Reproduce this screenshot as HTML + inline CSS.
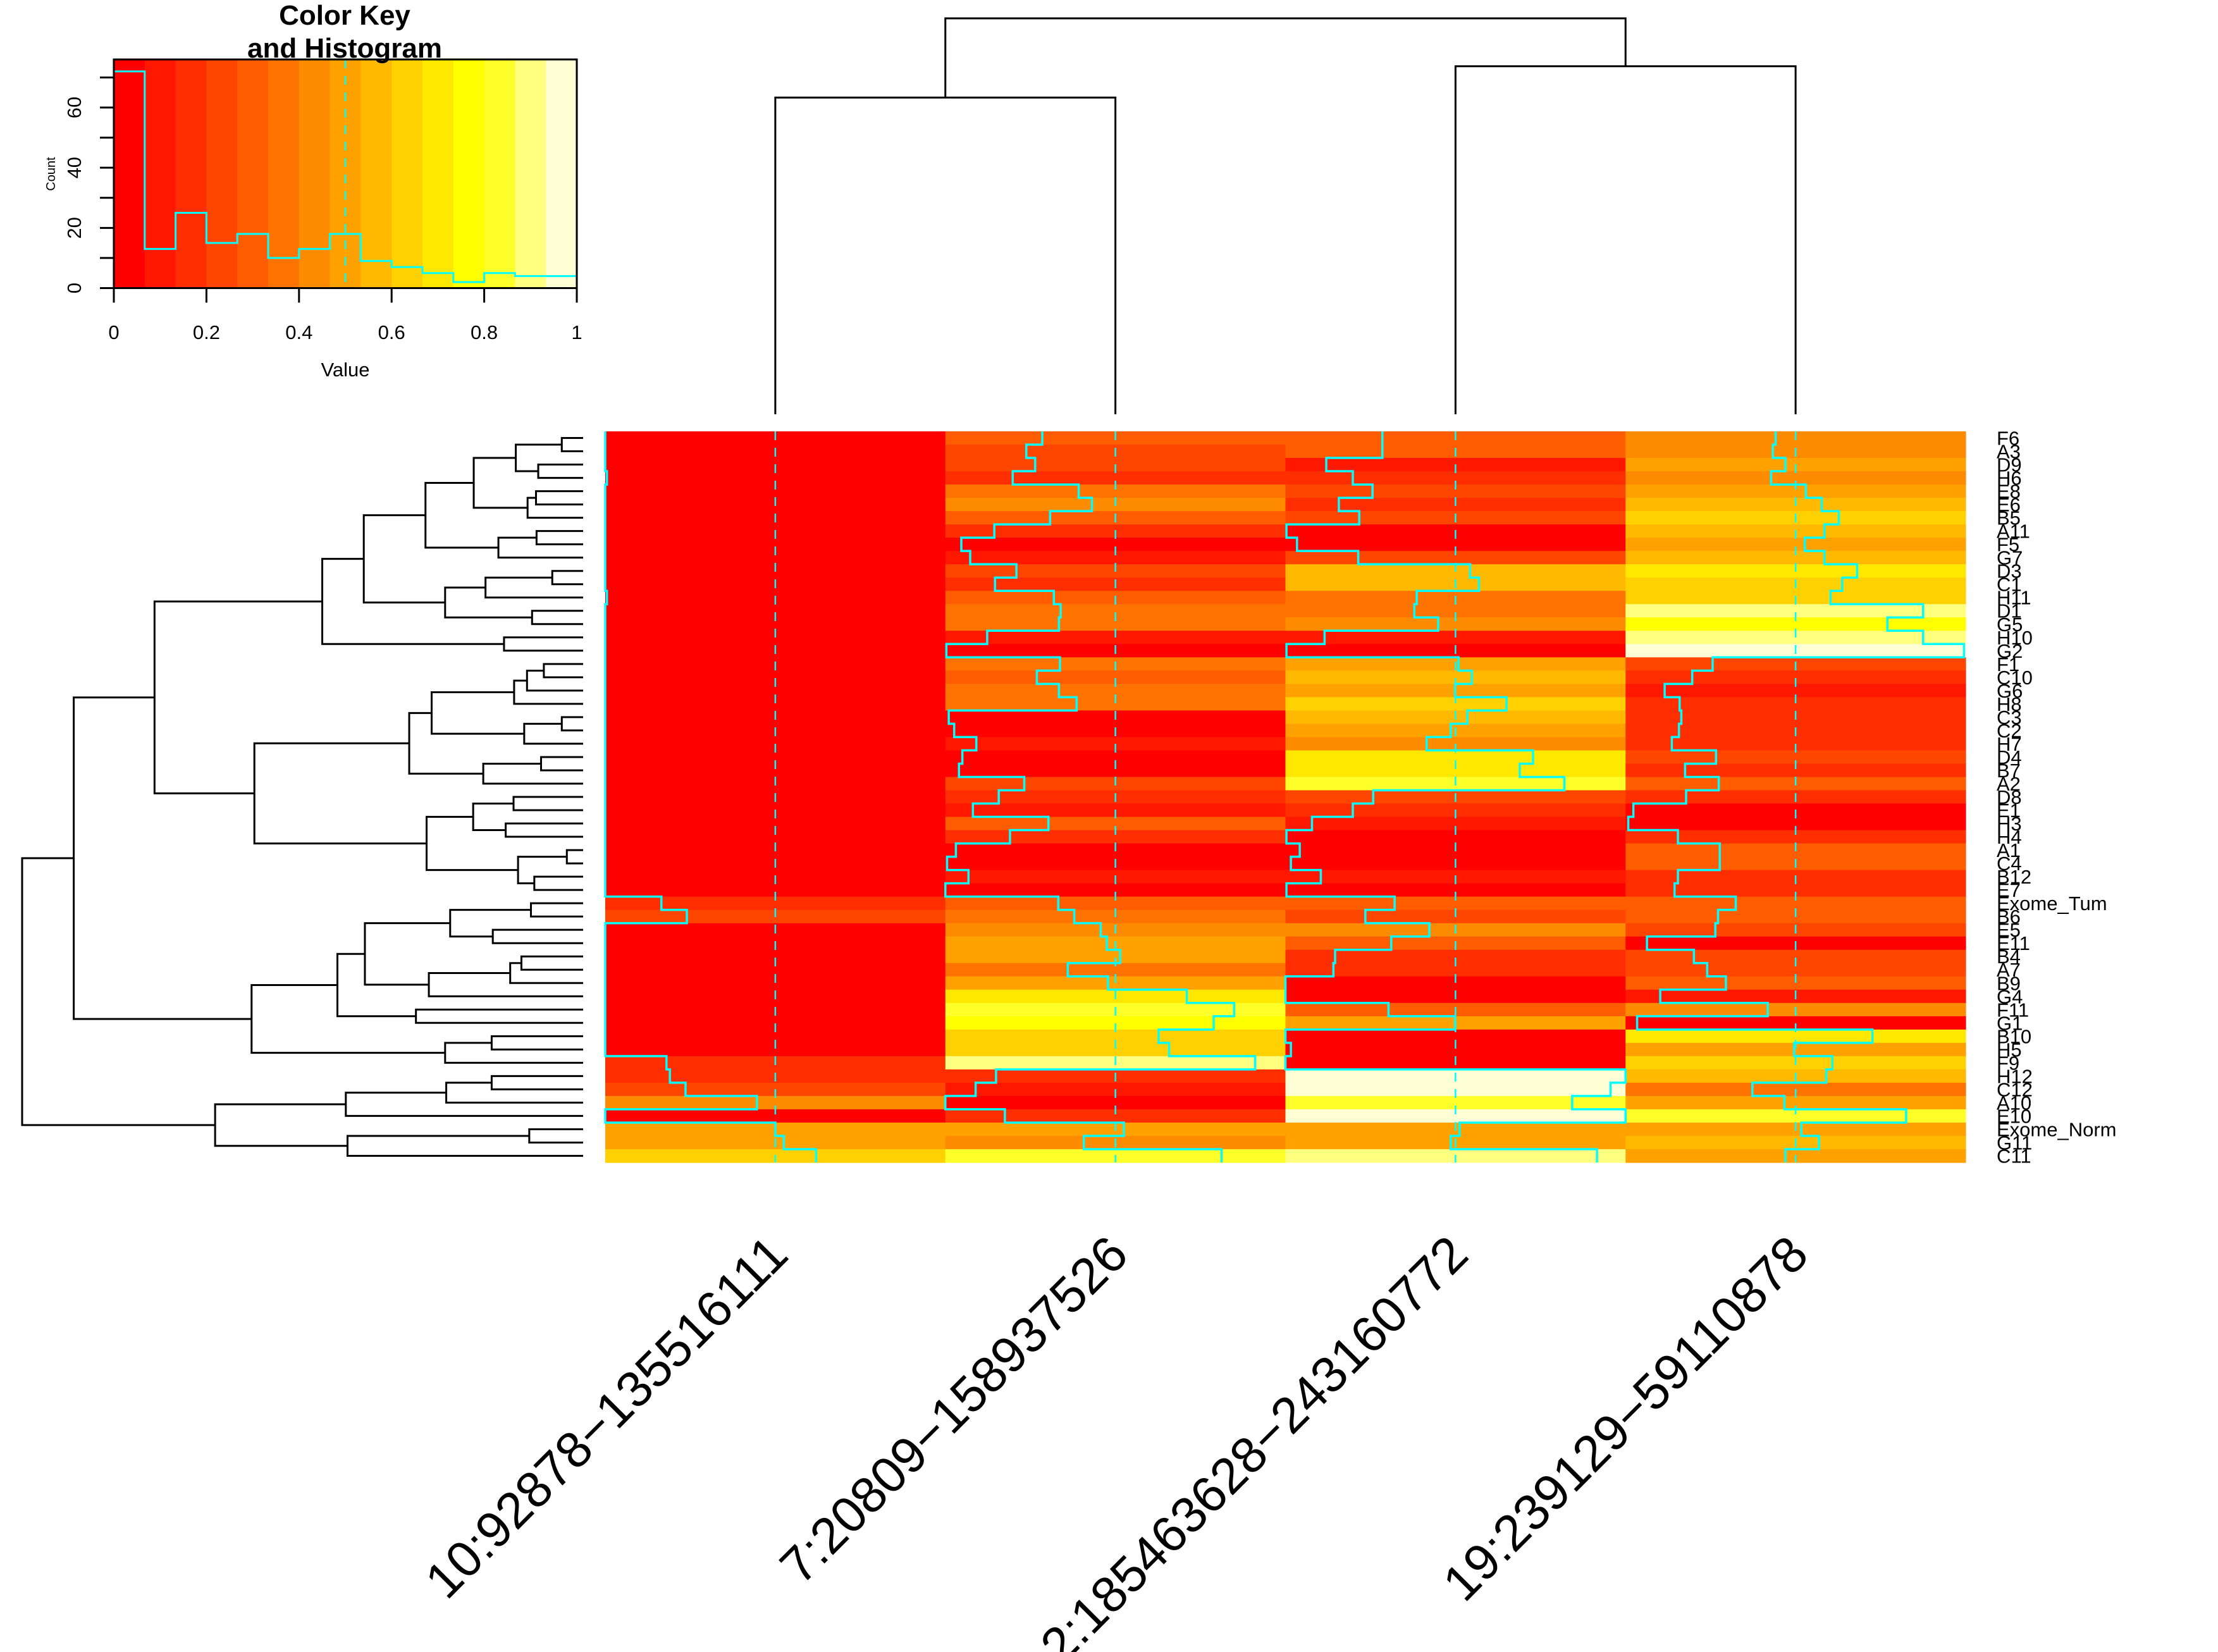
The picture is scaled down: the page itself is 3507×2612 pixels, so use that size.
<!DOCTYPE html>
<html><head><meta charset="utf-8">
<style>
html,body{margin:0;padding:0;background:#fff;}
svg{display:block;}
text{font-family:"Liberation Sans",sans-serif;}
.nar{font-family:"Liberation Sans Narrow","Liberation Sans",sans-serif;}
</style></head>
<body>
<svg id="chart" xmlns="http://www.w3.org/2000/svg" width="3507" height="2612" viewBox="0 0 3507 2612">
<g id="key"></g>
<g id="coldend"></g>
<g id="rowdend"></g>
<g id="cells"></g>
<g id="traces"></g>
<g id="rowlabels"></g>
<g id="collabels"></g>
</svg>
<script>
const rowNames = ["F6","A3","D9","H6","E8","E6","B5","A11","F5","G7","D3","C1","H11","D1","G5","H10","G2","F1","C10","G6","H8","C3","C2","H7","D4","B7","A2","D8","E1","H3","H4","A1","C4","B12","E7","Exome_Tum","B6","E5","E11","B4","A7","B9","G4","F11","G1","B10","H5","F9","H12","C12","A10","E10","Exome_Norm","G11","C11"];
const colNames = ["10:92878\u2212135516111","7:20809\u2212158937526","2:185463628\u2212243160772","19:239129\u221259110878"];
const col1 = [0,0,0,0.005,0,0,0,0,0,0,0,0,0.005,0,0,0,0,0,0,0,0,0,0,0,0,0,0,0,0,0,0,0,0,0,0,0.165,0.24,0,0,0,0,0,0,0,0,0,0,0.18,0.19,0.236,0.446,0,0.5,0.525,0.62];
const col2 = [0.285,0.238,0.264,0.198,0.392,0.431,0.308,0.144,0.047,0.073,0.209,0.146,0.319,0.339,0.334,0.123,0.003,0.337,0.269,0.334,0.386,0.01,0.026,0.091,0.05,0.04,0.232,0.157,0.081,0.303,0.19,0.031,0.005,0.068,0.0,0.332,0.379,0.457,0.475,0.514,0.36,0.478,0.71,0.849,0.789,0.627,0.658,0.911,0.149,0.089,0.0,0.175,0.525,0.407,0.812];
const col3 = [0.285,0.285,0.12,0.198,0.256,0.157,0.217,0.003,0.034,0.214,0.543,0.569,0.386,0.379,0.449,0.115,0.003,0.509,0.548,0.499,0.65,0.535,0.486,0.415,0.728,0.689,0.82,0.258,0.198,0.078,0.003,0.042,0.016,0.104,0.003,0.321,0.235,0.423,0.311,0.146,0.141,0.0,0.0,0.303,0.499,0.0,0.016,0.0,1.0,0.956,0.843,1.0,0.512,0.486,0.916];
const col4 = [0.441,0.433,0.47,0.428,0.53,0.577,0.627,0.585,0.527,0.585,0.681,0.637,0.603,0.875,0.77,0.875,0.995,0.256,0.196,0.115,0.159,0.164,0.157,0.136,0.266,0.175,0.274,0.178,0.023,0.008,0.154,0.277,0.277,0.154,0.144,0.324,0.272,0.264,0.063,0.201,0.24,0.295,0.102,0.418,0.034,0.726,0.496,0.608,0.59,0.373,0.467,0.825,0.517,0.569,0.47];
const histCounts = [72,13,25,15,18,10,13,18,9,7,5,2,5,4,4];
const keyXTicks = [0,0.2,0.4,0.6,0.8,1];
const keyXTickLabels = ["0","0.2","0.4","0.6","0.8","1"];
const keyYTicks = [0,10,20,30,40,50,60,70];
const keyYLabels = [0,20,40,60];
const palette = ["#FF0000","#FF1700","#FF2E00","#FF4600","#FF5D00","#FF7400","#FF8B00","#FFA200","#FFB900","#FFD100","#FFE800","#FFFF00","#FFFF2A","#FFFF80","#FFFFD5"];
const rowTree = [100,[90.8,[76.4,[46.5,[39.1,[28.1,[19.5,[12.0,[3.8,0,1],[8.0,2,3]],[9.9,[8.4,4,5],6]],[15.1,[8.3,7,8],9]],[24.6,[17.4,[5.5,10,11],12],[9.1,13,14]]],[14.1,15,16]],[58.6,[31.0,[27.0,[12.3,[10.0,[7.0,17,18],19],20],[10.5,[3.8,21,22],23]],[17.8,[7.5,24,25],26]],[27.9,[19.6,[12.4,27,28],[13.8,29,30]],[11.6,[2.9,31,32],[8.7,33,34]]]]],[59.1,[43.8,[38.9,[23.7,[9.3,35,36],[16.1,37,38]],[27.5,[13.0,[11.0,39,40],41],42]],[29.8,43,44]],[24.6,[16.3,45,46],47]]],[65.6,[42.3,[24.4,[16.3,48,49],50],51],[42.0,[9.6,52,53],54]]];
const colTree = [100,[80.0,0,1],[87.9,2,3]];

const NS="http://www.w3.org/2000/svg";
function mk(parent,tag,attrs){const e=document.createElementNS(NS,tag);for(const k in attrs)e.setAttribute(k,attrs[k]);parent.appendChild(e);return e;}

const HL=957, HR=3108, HT=682, HB=1838;
const nCol=4, nRow=rowNames.length;
const colW=(HR-HL)/nCol, rowH=(HB-HT)/nRow;
const cols=[col1,col2,col3,col4];
const xCol=i=>HL+i*colW;
const yRow=j=>HT+j*rowH;
const colorOf=v=>palette[Math.min(14,Math.max(0,Math.floor(v*15)))];

const gCells=document.getElementById('cells');
cols.forEach((arr,i)=>{
  arr.forEach((v,j)=>{
    const r=mk(gCells,'rect',{x:xCol(i),y:yRow(j),width:colW+0.6,height:rowH+0.6,fill:colorOf(v)});
    
    
  });
});
const gTr=document.getElementById('traces');
cols.forEach((arr,i)=>{
  const cx=xCol(i)+0.5*colW;
  const dl=mk(gTr,'line',{x1:cx,y1:HT,x2:cx,y2:HB,stroke:'#00FFFF','stroke-width':2.5,'stroke-dasharray':'14,12'});
  
  
  let d='';
  arr.forEach((v,j)=>{
    const x=xCol(i)+v*colW;
    d+=(j===0?'M':'L')+x+','+yRow(j)+' L'+x+','+yRow(j+1)+' ';
  });
  const p=mk(gTr,'path',{d:d,fill:'none',stroke:'#00FFFF','stroke-width':3.5});
  
  
});
const gRL=document.getElementById('rowlabels');
rowNames.forEach((n,j)=>{
  const t=mk(gRL,'text',{x:3157,y:yRow(j)+rowH/2+11,'font-size':31,fill:'#000'});
  t.textContent=n;
  
  
});
const gCL=document.getElementById('collabels');
colNames.forEach((n,i)=>{
  const ax=1250+i*colW, ay=1988;
  const t=mk(gCL,'text',{x:ax,y:ay,'font-size':80,'text-anchor':'end',fill:'#000',transform:'rotate(-45 '+ax+' '+ay+')'});
  t.textContent=n;
  
  
});
const gRD=document.getElementById('rowdend');
const RX0=922, RX1=35;
const hx=h=>RX0-h/100*(RX0-RX1);
function drawRow(node){
  if(typeof node==='number') return {x:RX0,y:yRow(node)+rowH/2};
  const a=drawRow(node[1]), b=drawRow(node[2]), x=hx(node[0]);
  const l=mk(gRD,'path',{d:`M${a.x},${a.y} L${x},${a.y} L${x},${b.y} L${b.x},${b.y}`,fill:'none',stroke:'#000','stroke-width':3});
  
  
  return {x:x,y:(a.y+b.y)/2};
}
drawRow(rowTree);
const gCD=document.getElementById('coldend');
const CY0=655, CY1=29;
const hy=h=>CY0-h/100*(CY0-CY1);
function drawCol(node){
  if(typeof node==='number') return {x:xCol(node)+colW/2,y:CY0};
  const a=drawCol(node[1]), b=drawCol(node[2]), y=hy(node[0]);
  const l=mk(gCD,'path',{d:`M${a.x},${a.y} L${a.x},${y} L${b.x},${y} L${b.x},${b.y}`,fill:'none',stroke:'#000','stroke-width':3});
  
  
  return {x:(a.x+b.x)/2,y:y};
}
drawCol(colTree);
const gK=document.getElementById('key');
const KX0=180, KX1=912, KY0=455.5, KYT=94, cPx=4.758;
const kx=v=>KX0+v*(KX1-KX0);
const ky=c=>KY0-c*cPx;
palette.forEach((c,i)=>{
  const r=mk(gK,'rect',{x:kx(i/15),y:KYT,width:(KX1-KX0)/15+0.6,height:KY0-KYT,fill:c});
  
  
});
let hd='';
histCounts.forEach((c,i)=>{hd+=(i===0?'M':'L')+kx(i/15)+','+ky(c)+' L'+kx((i+1)/15)+','+ky(c)+' ';});
const hp=mk(gK,'path',{d:hd,fill:'none',stroke:'#00FFFF','stroke-width':3});


const kv=mk(gK,'line',{x1:kx(0.5),y1:KYT,x2:kx(0.5),y2:KY0,stroke:'#00FFFF','stroke-width':2.5,'stroke-dasharray':'14,12'});


const kb=mk(gK,'rect',{x:KX0,y:KYT,width:KX1-KX0,height:KY0-KYT,fill:'none',stroke:'#000','stroke-width':3});


const ax1=mk(gK,'line',{x1:KX0,y1:ky(0),x2:KX0,y2:ky(70),stroke:'#000','stroke-width':3});


keyYTicks.forEach(t=>{
  const l=mk(gK,'line',{x1:KX0-22,y1:ky(t),x2:KX0,y2:ky(t),stroke:'#000','stroke-width':3});
  
  
});
keyYLabels.forEach(t=>{
  const tx=mk(gK,'text',{x:128,y:ky(t),'font-size':31,'text-anchor':'middle',class:'nar',transform:`rotate(-90 128 ${ky(t)})`});
  tx.textContent=String(t);
  
  
});
keyXTicks.forEach((t,i)=>{
  const l=mk(gK,'line',{x1:kx(t),y1:KY0,x2:kx(t),y2:KY0+23,stroke:'#000','stroke-width':3});
  
  
  const tx=mk(gK,'text',{x:kx(t),y:536,'font-size':31,'text-anchor':'middle',class:'nar'});
  tx.textContent=keyXTickLabels[i];
  
  
});
const xl=mk(gK,'line',{x1:KX0,y1:KY0,x2:KX1,y2:KY0,stroke:'#000','stroke-width':3});


const vt=mk(gK,'text',{x:546,y:595,'font-size':31,'text-anchor':'middle',class:'nar'});
vt.textContent='Value';


const ct=mk(gK,'text',{x:87,y:275,'font-size':20,'text-anchor':'middle',transform:'rotate(-90 87 275)'});
ct.textContent='Count';


const t1=mk(gK,'text',{x:545,y:39,'font-size':44,'font-weight':'bold','text-anchor':'middle',class:'nar'});
t1.textContent='Color Key';


const t2=mk(gK,'text',{x:545,y:91,'font-size':44,'font-weight':'bold','text-anchor':'middle',class:'nar'});
t2.textContent='and Histogram';


</script>
</body></html>
